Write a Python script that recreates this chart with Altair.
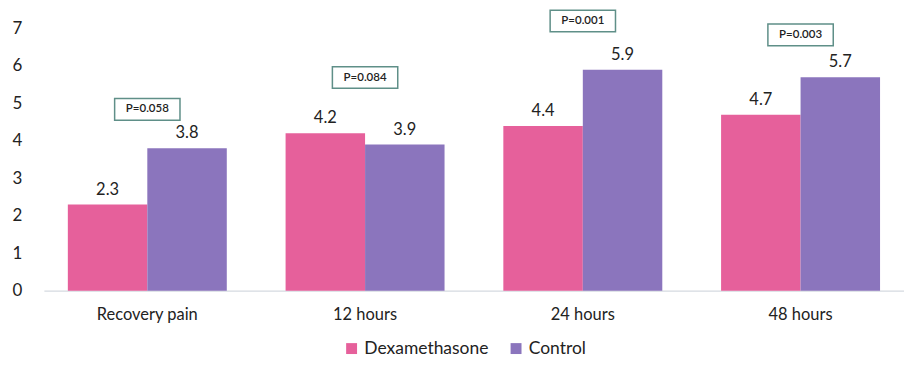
import altair as alt
import pandas as pd

categories = ["Recovery pain", "12 hours", "24 hours", "48 hours"]
groups = ["Dexamethasone", "Control"]
dexa_values = [2.3, 4.2, 4.4, 4.7]
control_values = [3.8, 3.9, 5.9, 5.7]
p_labels = ["P=0.058", "P=0.084", "P=0.001", "P=0.003"]
p_label_level = [4.84, 5.69, 7.2, 6.83]
y_ticks = [0, 1, 2, 3, 4, 5, 6, 7]

colors = ["#E6609B", "#8B75BD"]
FONT = "Lato"

rows = []
for c, d, k in zip(categories, dexa_values, control_values):
    rows.append({"category": c, "group": groups[0], "value": d, "label": f"{d:.1f}"})
    rows.append({"category": c, "group": groups[1], "value": k, "label": f"{k:.1f}"})
df = pd.DataFrame(rows)
pdf = pd.DataFrame({"category": categories, "p": p_labels, "level": p_label_level})

x_axis = alt.Axis(
    title=None, labelAngle=0, ticks=False, labelPadding=16,
    labelFontSize=16.5, labelFont=FONT, labelColor="#222222",
    domainColor="#d5dae0", domainWidth=1.2, grid=False,
)
y_axis = alt.Axis(
    title=None, values=y_ticks, grid=False, domain=False, ticks=False,
    labelOverlap=False, labelPadding=22, labelFontSize=17,
    labelFont=FONT, labelColor="#222222",
)
x_scale = alt.Scale(paddingInner=0.27, paddingOuter=0.11)
y_scale = alt.Scale(domain=[0, 7], nice=False)


def xenc():
    return alt.X("category:N", sort=categories, scale=x_scale, axis=x_axis)


def yenc(field):
    return alt.Y(field, scale=y_scale, axis=y_axis)


bars = alt.Chart(df).mark_bar().encode(
    x=xenc(),
    xOffset=alt.XOffset("group:N", sort=groups, scale=alt.Scale(paddingInner=0)),
    y=yenc("value:Q"),
    color=alt.Color(
        "group:N",
        sort=groups,
        scale=alt.Scale(domain=groups, range=colors),
        legend=alt.Legend(
            title=None, orient="none", direction="horizontal",
            legendX=300, legendY=312,
            symbolType="square", symbolSize=120, symbolStrokeWidth=0,
            labelFontSize=17.5, labelFont=FONT, labelColor="#222222",
            columnPadding=18,
        ),
    ),
)

value_text = alt.Chart(df).mark_text(
    baseline="bottom", dy=-7, fontSize=16.5, font=FONT, color="#222222"
).encode(
    x=xenc(),
    xOffset=alt.XOffset("group:N", sort=groups, scale=alt.Scale(paddingInner=0)),
    y=yenc("value:Q"),
    text="label:N",
)

p_box = alt.Chart(pdf).mark_point(
    shape="M-1,-0.33L1,-0.33L1,0.33L-1,0.33Z",
    filled=False, stroke="#5f8f88", strokeWidth=1.5, fill="white", opacity=1,
).encode(
    x=xenc(),
    y=yenc("level:Q"),
    size=alt.value(4300),
)

p_text = alt.Chart(pdf).mark_text(
    fontSize=11.5, font=FONT, fontWeight=600, color="#222222"
).encode(
    x=xenc(),
    y=yenc("level:Q"),
    text="p:N",
)

chart = alt.layer(bars, value_text, p_box, p_text).properties(
    width=863, height=263,
    autosize=alt.AutoSizeParams(type="none"),
    padding={"left": 36, "top": 20, "right": 0, "bottom": 70},
).configure(background="white").configure_view(stroke=None, strokeWidth=0)

chart.save("out.html", embed_options={"renderer": "svg", "actions": False})
